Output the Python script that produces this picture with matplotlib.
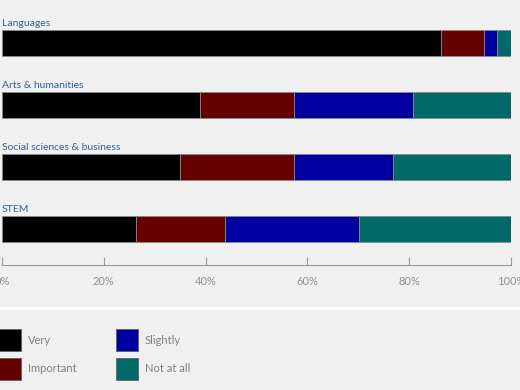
import matplotlib
matplotlib.use("Agg")
import matplotlib.pyplot as plt
from matplotlib.patches import Rectangle

categories = ["Languages", "Arts & humanities", "Social sciences & business", "STEM"]
series = ["Very", "Important", "Slightly", "Not at all"]
very = [86.2, 38.9, 35.0, 26.3]
important = [8.5, 18.5, 22.4, 17.5]
slightly = [2.6, 23.3, 19.4, 26.3]
not_at_all = [2.7, 19.3, 23.2, 29.9]
ticks = [0, 20, 40, 60, 80, 100]
tick_labels = ["0%", "20%", "40%", "60%", "80%", "100%"]

colors = ["#000000", "#650000", "#0000a0", "#006a68"]
BG = "#f0f0f0"
plt.rcParams["font.family"] = ["Lato", "DejaVu Sans"]

W, H = 520, 390
fig = plt.figure(figsize=(W / 100, H / 100), dpi=100, facecolor=BG)
ax = fig.add_axes([2 / W, (H - 265) / H, 509 / W, 265 / H])
ax.set_facecolor(BG)

values = [very, important, slightly, not_at_all]
left = [0.0] * len(categories)
for name, vals, c in zip(series, values, colors):
    ax.barh(range(len(categories)), vals, left=left, height=0.42, color=c,
            edgecolor="#8a8a8a", linewidth=0.6, label=name)
    left = [a + b for a, b in zip(left, vals)]

for i, cat in enumerate(categories):
    ax.text(0, i - 0.24, cat, ha="left", va="bottom", fontsize=7.5,
            color="#33609e", clip_on=False)

ax.set_xlim(0, 100)
ax.set_ylim(3.58, -0.70)
ax.set_xticks(ticks)
ax.set_xticklabels(tick_labels)
ax.set_yticks([])
for s in ["top", "left", "right"]:
    ax.spines[s].set_visible(False)
ax.spines["bottom"].set_color("#9a9a9a")
ax.tick_params(axis="x", direction="in", length=6, color="#9a9a9a",
               labelcolor="#909090", labelsize=8, pad=8)

# white separator
fig.add_artist(plt.Line2D([0, 1], [(H - 308) / H] * 2, color="white", lw=2))

# legend: two columns of swatches
swatch_x = [-1, -1, 116, 116]
swatch_top = [329, 358, 329, 358]
for name, c, x, top in zip(series, colors, swatch_x, swatch_top):
    fig.add_artist(Rectangle((x / W, (H - top - 22) / H), 22 / W, 22 / H,
                             transform=fig.transFigure, facecolor=c,
                             edgecolor="#606060", linewidth=0.6))
    fig.text((x + 29) / W, (H - top - 11) / H, name, ha="left", va="center",
             fontsize=8, color="#808080")

fig.savefig("out.png", dpi=100, facecolor=BG)
